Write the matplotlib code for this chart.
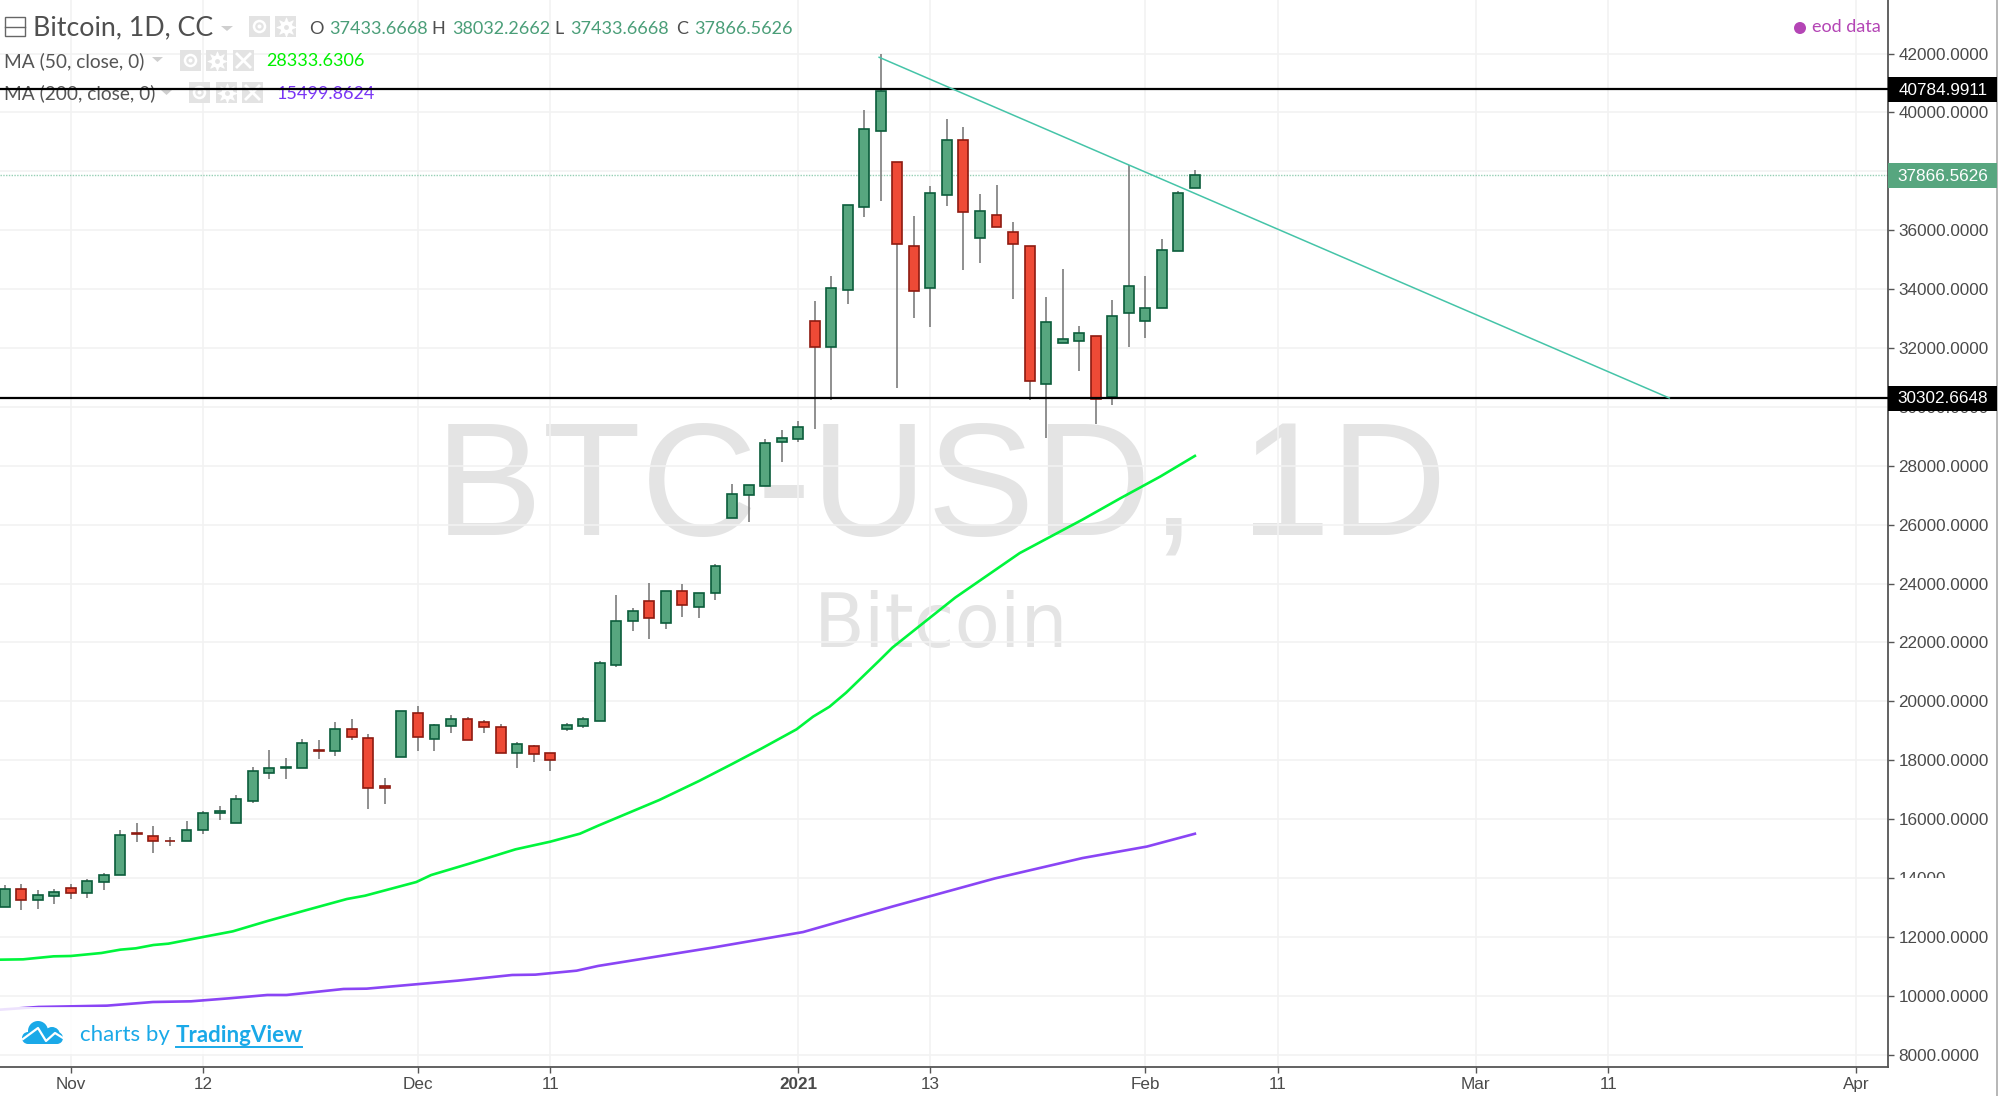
import matplotlib
matplotlib.use('Agg')
import matplotlib.pyplot as plt
from matplotlib.patches import Rectangle, Polygon, Circle

# bars, index 0 is the first session of Nov (weekdays only)
bar_idx = list(range(-4, 69))
opens = [13012, 13623, 13238, 13396, 13668, 13498, 13872, 14087, 15525, 15411, 15253, 15242, 15626, 16192, 15876, 16623, 17574, 17732, 17732, 18332,
         18309, 19068, 18751, 17109, 18106, 19600, 18728, 19170, 19396, 19294, 19124, 18253, 18490, 18230, 19068, 19170, 19340, 21242, 22725, 23415,
         22668, 23744, 23200, 23676, 26211, 27004, 27321, 28815, 28917, 32933, 32028, 33986, 36793, 39386, 38333, 35480, 34031, 37212, 39080, 35740,
         36533, 35956, 35480, 30760, 32186, 32243, 32401, 30330, 33194, 32922, 33352, 35299, 37433.67]
highs = [13747, 13804, 13578, 13634, 13804, 13951, 14166, 15638, 15864, 15751, 15389, 15921, 16272, 16453, 16804, 17766, 18355, 18083, 18728, 18672,
         19305, 19407, 18875, 17404, 19656, 19838, 19238, 19521, 19464, 19351, 19238, 18615, 18524, 18253, 19250, 19465, 21378, 23596, 23178, 24027,
         23744, 23981, 23687, 24661, 27366, 27343, 28894, 29211, 29528, 33590, 34439, 36850, 40099, 41989, 38333, 36499, 37518, 39782, 39521, 37235,
         37552, 36295, 35480, 33748, 34688, 32741, 32401, 33635, 38231, 34439, 35707, 37348, 38032.27]
lows = [13012, 12898, 12955, 13102, 13272, 13317, 13578, 14087, 15230, 14857, 15072, 15242, 15491, 15977, 15876, 16555, 17347, 17347, 17732, 18026,
        18140, 18672, 16340, 16498, 18106, 18298, 18298, 18932, 18694, 18932, 18253, 17721, 17936, 17619, 19000, 19102, 19340, 21174, 22396, 22125,
        22442, 22872, 22815, 23449, 26211, 26098, 27321, 28113, 28792, 29254, 30239, 33499, 36465, 36986, 30635, 33024, 32707, 36839, 34654, 34880,
        36103, 33658, 30239, 28949, 32186, 31213, 29424, 30058, 32028, 32333, 33352, 35299, 37433.67]
closes = [13611, 13238, 13408, 13510, 13498, 13883, 14110, 15468, 15502, 15242, 15242, 15626, 16215, 16272, 16691, 17641, 17743, 17755, 18592, 18321,
          19068, 18796, 17041, 17041, 19656, 18796, 19181, 19396, 18694, 19113, 18253, 18547, 18207, 18004, 19193, 19397, 21310, 22736, 23053, 22827,
          23744, 23257, 23687, 24604, 27026, 27343, 28781, 28940, 29302, 32039, 34054, 36850, 39454, 40733, 35525, 33941, 37280, 39080, 36635, 36646,
          36103, 35525, 30862, 32877, 32299, 32514, 30273, 33103, 34099, 33363, 35322, 37280, 37866.56]

ma50_idx = [-4.27, -2.89, -1.04, 0, 1.85, 3, 3.93, 5, 5.9, 8, 9.8, 11.9, 14.2, 16.7, 17.8, 20.9, 21.8, 24.1, 26.9, 29, 30.8, 31.9,
            35.6, 38, 40, 41.8, 43.9, 44.9, 45.9, 46.9, 48.9, 49.7, 53.5, 57.4, 61.2, 63.5, 65.9, 68]
ma50 = [11223, 11234, 11336, 11348, 11449, 11563, 11608, 11721, 11766, 11993, 12185, 12536, 12898, 13283, 13396, 13860, 14098, 14483, 14970, 15230, 15502, 15774,
        16646, 17291, 17868, 18400, 19046, 19476, 19816, 20291, 21378, 21822, 23520, 25032, 26170, 26897, 27631, 28333.63]
ma200_idx = [-4.27, -1.96, 2.19, 4.97, 7.27, 9.58, 11.89, 13.05, 16.5, 17.9, 21.1, 23.4, 26.7, 28.1, 30.6, 31.9, 38.9, 44.3, 49.7, 55.9, 61.2, 65.1, 68]
ma200 = [9525, 9616, 9661, 9785, 9808, 9910, 10023, 10023, 10227, 10238, 10397, 10510, 10702, 10714, 10849, 11010, 11640, 12161, 13027, 13982, 14674, 15065, 15499.86]

resistance = 40784.9911
support = 30302.6648
last_close = 37866.5626
trend_idx = [48.9, 96.7]
trend_val = [41874, 30300]

y_ticks = list(range(8000, 44000, 2000))
x_tick_idx = [0, 8, 21, 29, 44, 52, 65, 73, 85, 93, 108]
x_tick_labels = ['Nov', '12', 'Dec', '11', '2021', '13', 'Feb', '11', 'Mar', '11', 'Apr']

GREEN = '#57a67f'
GREEN_EDGE = '#0b5c3b'
RED = '#ee4a36'
RED_EDGE = '#8e1a10'
WICK = '#7d7d7d'
ICON = '#e3e3e3'
LABEL = '#4a4a4a'
UI_FONT = 'Lato'
TICK_FONT = 'Liberation Sans'

XLIM = (-4.283, 109.93)
YLIM = (7577, 43820)
AX_RECT = [0, 29 / 1096, 1888 / 2000, 1067 / 1096]

fig = plt.figure(figsize=(20, 10.96), dpi=100, facecolor='white')


def pixel_axes(z):
    a = fig.add_axes([0, 0, 1, 1], zorder=z)
    a.set_xlim(0, 2000)
    a.set_ylim(1096, 0)
    a.axis('off')
    return a


# layers from the back: watermark, grid, legend, chart, tags and logo
wm = pixel_axes(0)
wm.text(941, 493, 'BTC-USD, 1D', fontsize=116, color='#e4e4e4', family=TICK_FONT, ha='center', va='center')
wm.text(941, 626, 'Bitcoin', fontsize=53.5, color='#e4e4e4', family='DejaVu Sans', ha='center', va='center')

gridax = fig.add_axes(AX_RECT, zorder=1)
gridax.patch.set_alpha(0)
gridax.set_xlim(*XLIM)
gridax.set_ylim(*YLIM)
gridax.set_xticks(x_tick_idx)
gridax.set_yticks(y_ticks)
gridax.grid(True, color='#f2f2f2', lw=1.2)
gridax.tick_params(length=0, labelbottom=False, labelleft=False)
for s in gridax.spines.values():
    s.set_visible(False)

leg = pixel_axes(2)
leg.add_patch(Rectangle((5, 17), 20, 19, fc='white', ec='#666666', lw=1))
leg.plot([5, 25], [27, 27], color='#666666', lw=1)
leg.text(33, 28, 'Bitcoin, 1D, CC', fontsize=19.3, color='#4f4f4f', family=UI_FONT, va='center')
leg.add_patch(Polygon([(221, 26), (233, 26), (227, 31)], fc='#cfcfcf'))


def icons(x_list, y, h):
    for i, x in enumerate(x_list):
        leg.add_patch(Rectangle((x, y), 21, h, fc=ICON, ec='none'))
        cx, cy = x + 10.5, y + h / 2
        if i == 0:
            leg.add_patch(Circle((cx, cy), 5.5, fc='none', ec='white', lw=1.8))
            leg.add_patch(Circle((cx, cy), 2, fc='white', ec='none'))
        elif i == 1:
            leg.plot(cx, cy, marker='o', ms=9, mfc='white', mec='none')
            leg.plot(cx, cy, marker=(8, 1, 0), ms=14, mfc='white', mec='white', mew=0.5)
            leg.plot(cx, cy, marker='o', ms=3.5, mfc=ICON, mec='none')
        else:
            leg.plot([cx - 6.5, cx + 6.5], [cy - 6.5, cy + 6.5], color='white', lw=2)
            leg.plot([cx - 6.5, cx + 6.5], [cy + 6.5, cy - 6.5], color='white', lw=2)


icons([249, 275], 16, 21)
icons([180, 206, 233], 50, 21)
icons([189, 216, 242], 82, 21)

ohlc_parts = [(309, 'O', '#4f4f4f'), (329, '37433.6668', '#4a9e78'), (431, 'H', '#4f4f4f'), (452, '38032.2662', '#4a9e78'),
              (554, 'L', '#4f4f4f'), (570, '37433.6668', '#4a9e78'), (676, 'C', '#4f4f4f'), (694, '37866.5626', '#4a9e78')]
for x, s, c in ohlc_parts:
    leg.text(x, 29, s, fontsize=13, color=c, family=UI_FONT, va='center')

leg.text(4, 61, 'MA (50, close, 0)', fontsize=13.8, color='#555555', family=UI_FONT, va='center')
leg.add_patch(Polygon([(152, 57), (163, 57), (157.5, 62)], fc='#cfcfcf'))
leg.text(266, 61, '28333.6306', fontsize=13, color='#00f000', family=UI_FONT, va='center')
leg.text(4, 93, 'MA (200, close, 0)', fontsize=13.8, color='#555555', family=UI_FONT, va='center')
leg.add_patch(Polygon([(161, 90), (172, 90), (166.5, 95)], fc='#cfcfcf'))
leg.text(277, 94, '15499.8624', fontsize=13, color='#7a35f5', family=UI_FONT, va='center')

leg.add_patch(Circle((1800, 28), 6, fc='#b445b5', ec='none'))
leg.text(1812, 27, 'eod data', fontsize=13, color='#b445b5', family=UI_FONT, va='center')
leg.plot([1997, 1997], [0, 1096], color='#aaaaaa', lw=1.2)

# main chart
ax = fig.add_axes(AX_RECT, zorder=3)
ax.patch.set_alpha(0)
ax.set_xlim(*XLIM)
ax.set_ylim(*YLIM)

for i, o, h, l, c in zip(bar_idx, opens, highs, lows, closes):
    up = c >= o
    ax.vlines(i, l, h, color=WICK, lw=1.2, zorder=2)
    ax.bar(i, abs(c - o), bottom=min(o, c), width=0.6, color=GREEN if up else RED,
           edgecolor=GREEN_EDGE if up else RED_EDGE, lw=1.2, zorder=3)

ax.plot(ma50_idx, ma50, color='#00f53c', lw=1.9, zorder=4)
ax.plot(ma200_idx, ma200, color='#8a45f5', lw=1.9, zorder=4)
ax.axhline(last_close, color='#7cc4a2', lw=1, ls=(0, (1, 1)), alpha=0.8, zorder=1)
ax.axhline(resistance, color='black', lw=1.6, zorder=5)
ax.axhline(support, color='black', lw=1.6, zorder=5)
ax.plot(trend_idx, trend_val, color='#45c4a8', lw=1.1, zorder=6)

for s in ['top', 'left']:
    ax.spines[s].set_visible(False)
for s in ['right', 'bottom']:
    ax.spines[s].set_color('#555555')
    ax.spines[s].set_linewidth(1.3)

ax.yaxis.tick_right()
# 38000 sits fully behind the last price tag in the source screenshot
ax.set_yticks(y_ticks, labels=['' if v == 38000 else f'{v:.4f}' for v in y_ticks])
ax.set_xticks(x_tick_idx, labels=x_tick_labels)
ax.tick_params(axis='both', length=4.5, width=1, color='#555555', labelcolor=LABEL, labelsize=12.3, pad=3)
for lab in ax.get_xticklabels() + ax.get_yticklabels():
    lab.set_family(TICK_FONT)
ax.get_xticklabels()[4].set_fontweight('bold')
# 14000 and 30000 are partly cut off too
for lab in ax.get_yticklabels():
    if lab.get_text().startswith('14000'):
        lab.set_clip_path(Rectangle((1890, 860), 55, 18, transform=wm.transData))
    if lab.get_text().startswith('30000'):
        lab.set_clip_path(Rectangle((1890, 411), 105, 20, transform=wm.transData))

top = pixel_axes(4)
for val, fc in [(resistance, 'black'), (last_close, GREEN), (support, 'black')]:
    py = 53.6 + (42000 - val) * 1001 / 34000
    top.add_patch(Rectangle((1888, py - 12), 109, 25, fc=fc, ec='none'))
    top.text(1943, py + 1, f'{val:.4f}', fontsize=12.3, color='white', family=TICK_FONT, ha='center', va='center')

# logo box sits over the chart
top.add_patch(Rectangle((0, 1007), 317, 47, fc='white', ec='none', alpha=0.85))
BLUE = '#1aa9e8'
for cx, cy, r in [(38, 1031, 10), (52, 1035, 8), (28, 1038, 6), (57, 1038, 6)]:
    top.add_patch(Circle((cx, cy), r, fc=BLUE, ec='none'))
top.add_patch(Rectangle((28, 1034), 29, 10, fc=BLUE, ec='none'))
top.plot([23, 38, 46, 55, 63], [1039, 1028, 1041, 1033, 1038], color='white', lw=1.6)
top.text(80, 1035, 'charts by', fontsize=16, color=BLUE, family=UI_FONT, va='center')
top.text(176, 1035, 'TradingView', fontsize=16, color=BLUE, family=UI_FONT, fontweight='bold', va='center')
top.plot([176, 302], [1047, 1047], color=BLUE, lw=1.4)

fig.savefig('out.png', dpi=100)
